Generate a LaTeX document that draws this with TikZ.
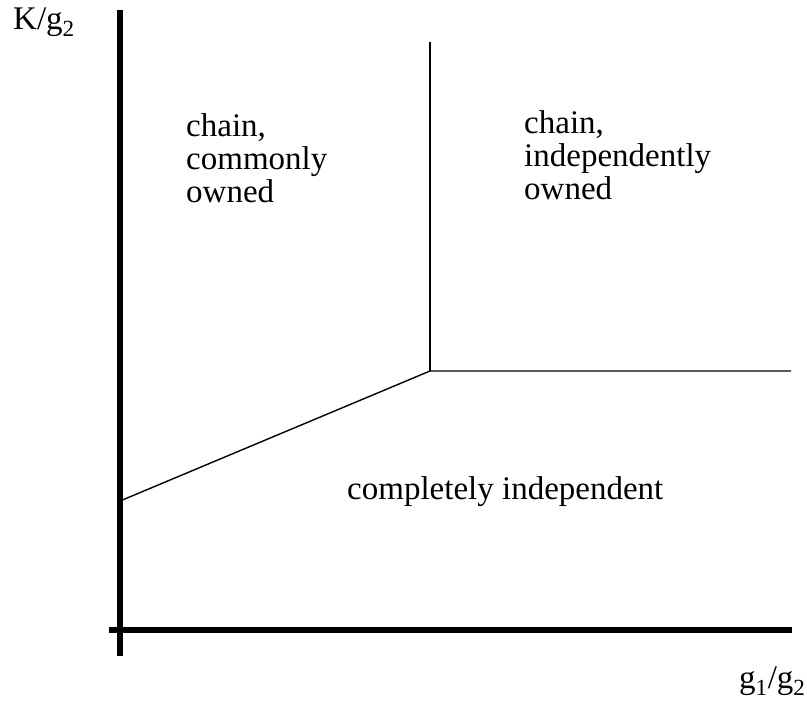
\documentclass[tikz,border=0pt]{standalone}
\usepackage{fontspec}
\setmainfont{Liberation Serif}
\usepackage{tikz}

\begin{document}
\begin{tikzpicture}[x=1pt,y=-1pt]
            \useasboundingbox (0,0) rectangle (807,702);
            \begin{scope}[every node/.style={inner sep=0pt,font=\fontsize{33}{33}\selectfont,align=left}]
                \node[anchor=north west] (cco) at (186,113) {chain,\\commonly\\owned};
                \node[anchor=north west] (cio) at (524,110) {chain,\\independently\\owned};
                \node[anchor=west] (ci) at (347,492) {completely independent};
                \node[anchor=west] (ylab) at (13,22) {K/g\textsubscript{2}};
                \node[anchor=west] (xlab) at (739,681) {g\textsubscript{1}/g\textsubscript{2}};
            \end{scope}
            \coordinate (ytop) at (119.5,10);
            \coordinate (ybot) at (119.5,656);
            \coordinate (xleft) at (109,630);
            \coordinate (xright) at (792,630);
            \coordinate (a) at (120,501);
            \coordinate (b) at (430,371);
            \coordinate (c) at (430,42);
            \coordinate (d) at (791,371);
            \begin{scope}[line width=6pt]
                \draw (ytop) -- (ybot);
                \draw (xleft) -- (xright);
            \end{scope}
            \begin{scope}[line width=1.4pt]
                \draw (a) -- (b) -- (d);
                \draw (b) -- (c);
            \end{scope}
        \end{tikzpicture}
\end{document}
